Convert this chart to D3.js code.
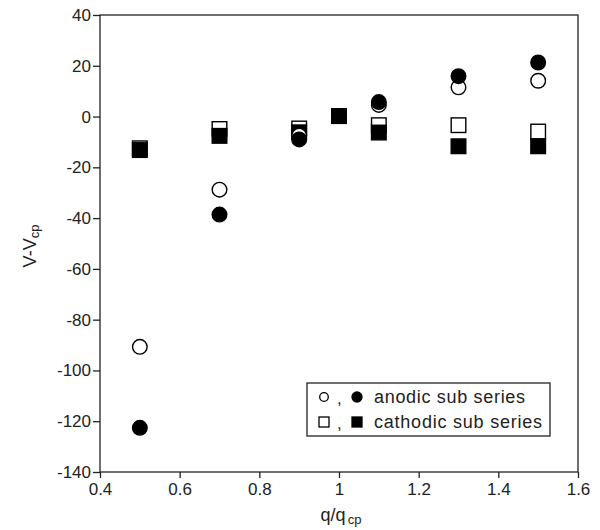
<!DOCTYPE html>
<html>
<head>
<meta charset="utf-8">
<script src="https://cdn.jsdelivr.net/npm/d3@7"></script>
<style>
  body { margin: 0; background: white; }
  text { font-family: "Liberation Sans", Arial, sans-serif; }
</style>
</head>
<body>
<script>
// data
let xTicks = [0.4, 0.6, 0.8, 1, 1.2, 1.4, 1.6]
let yTicks = [40, 20, 0, -20, -40, -60, -80, -100, -120, -140]

let anodicX = [0.5, 0.7, 0.9, 1.1, 1.3, 1.5]
let anodicOpen = [-90.7, -28.8, -7.5, 4.6, 11.5, 14.1]
let anodicFilled = [-122.6, -38.6, -9.0, 5.7, 15.9, 21.3]

let cathodicX = [0.5, 0.7, 0.9, 1.0, 1.1, 1.3, 1.5]
let cathodicOpen = [-12.5, -4.9, -4.7, 0.2, -3.4, -3.4, -5.9]
let cathodicFilled = [-13.2, -7.6, -6.2, 0.2, -6.3, -11.7, -11.7]

let width = 600, height = 530
let mLeft = 100, mRight = 578, mTop = 15, mBottom = 472

let svg = d3.select("body").append("svg")
            .attr("width", width)
            .attr("height", height)

svg.append('rect').attr('width', '100%').attr('height', '100%').attr('fill', 'white')

let x = d3.scaleLinear().domain([0.4, 1.6]).range([mLeft, mRight])
let y = d3.scaleLinear().domain([-140, 40]).range([mBottom, mTop])

let xAxis = svg.append('g')
               .attr('transform', `translate(0,${mBottom})`)
               .call(d3.axisBottom(x).tickValues(xTicks).tickSize(6).tickPadding(5).tickFormat(d3.format('')))
let yAxis = svg.append('g')
               .attr('transform', `translate(${mLeft},0)`)
               .call(d3.axisLeft(y).tickValues(yTicks).tickSize(7).tickPadding(2).tickFormat(d => d))

for (let ax of [xAxis, yAxis]) {
    ax.select('.domain').remove()
    ax.selectAll('line').attr('stroke', '#222').attr('stroke-width', 1.3)
    ax.selectAll('text').attr('font-size', '17px').attr('fill', '#222')
        .attr('font-family', '"Liberation Sans", Arial, sans-serif')
}

// frame
svg.append('rect')
   .attr('x', mLeft).attr('y', mTop)
   .attr('width', mRight - mLeft).attr('height', mBottom - mTop)
   .attr('fill', 'none').attr('stroke', '#222').attr('stroke-width', 1.3)

let plot = svg.append('g')
let r = 7.3, s = 14.6

function drawSquares(xs, ys, filled) {
    plot.selectAll(null).data(xs).enter().append('rect')
        .attr('x', (d, i) => x(d) - s / 2)
        .attr('y', (d, i) => y(ys[i]) - s / 2)
        .attr('width', s).attr('height', s)
        .attr('fill', filled ? 'black' : 'white')
        .attr('stroke', 'black').attr('stroke-width', 1.4)
}
function drawCircles(xs, ys, filled) {
    plot.selectAll(null).data(xs).enter().append('circle')
        .attr('cx', d => x(d))
        .attr('cy', (d, i) => y(ys[i]))
        .attr('r', r)
        .attr('fill', filled ? 'black' : 'white')
        .attr('stroke', 'black').attr('stroke-width', 1.4)
}

drawSquares(cathodicX, cathodicOpen, false)
drawSquares(cathodicX, cathodicFilled, true)
drawCircles(anodicX, anodicOpen, false)
drawCircles(anodicX, anodicFilled, true)

// axis titles
let xTitle = svg.append('text')
                .attr('x', 341).attr('y', 521)
                .attr('text-anchor', 'middle')
                .attr('font-size', '18px').attr('fill', '#222')
xTitle.append('tspan').text('q/q')
xTitle.append('tspan').attr('font-size', '13px').attr('dx', 2).attr('dy', 3).text('cp')

let yTitle = svg.append('text')
                .attr('transform', `translate(36,246) rotate(-90)`)
                .attr('text-anchor', 'middle')
                .attr('font-size', '18px').attr('fill', '#222')
yTitle.append('tspan').text('V-V')
yTitle.append('tspan').attr('font-size', '13px').attr('dy', 3).text('cp')

// legend
let legend = svg.append('g')
legend.append('rect')
      .attr('x', 307).attr('y', 383).attr('width', 243).attr('height', 53)
      .attr('fill', 'white').attr('stroke', '#222').attr('stroke-width', 1.3)

let legendRows = [
    { label: 'anodic sub series', shape: 'circle', len: 151 },
    { label: 'cathodic sub series', shape: 'square', len: 168 }
]
legendRows.forEach((row, i) => {
    let base = 403 + i * 25
    let cy = base - 6
    let g = legend.append('g')
    let xs = [324, 357]
    xs.forEach((cx, k) => {
        if (row.shape === 'circle') {
            g.append('circle').attr('cx', cx).attr('cy', cy).attr('r', k ? 5 : 4.3)
             .attr('fill', k ? 'black' : 'white').attr('stroke', 'black').attr('stroke-width', 1.3)
        } else {
            g.append('rect').attr('x', cx - 5).attr('y', cy - 5).attr('width', 10).attr('height', 10)
             .attr('fill', k ? 'black' : 'white').attr('stroke', 'black').attr('stroke-width', 1.3)
        }
    })
    g.append('text').attr('x', 337).attr('y', base + 1).attr('font-size', '17px').attr('fill', '#222').text(',')
    g.append('text').attr('x', 374).attr('y', base).attr('font-size', '18px').attr('fill', '#222')
     .attr('textLength', row.len).attr('lengthAdjust', 'spacing').text(row.label)
})
</script>
</body>
</html>
